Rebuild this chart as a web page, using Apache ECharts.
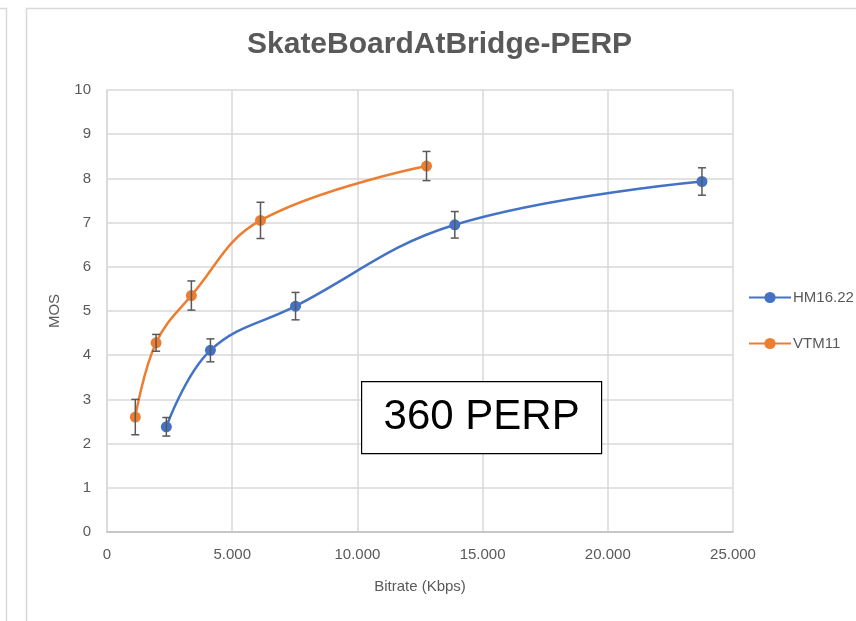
<!DOCTYPE html>
<html>
<head>
<meta charset="utf-8">
<script src="https://cdn.jsdelivr.net/npm/echarts@6/dist/echarts.min.js"></script>
<style>
  html, body { margin: 0; padding: 0; background: #fff; }
  #main { width: 856px; height: 621px; }
</style>
</head>
<body>
<div id="main"></div>
<script>
// HM16.22
var hmX = [2370, 4130, 7530, 13890, 23760];
var hmY = [2.38, 4.11, 5.11, 6.95, 7.93];
var hmErr = [0.21, 0.26, 0.31, 0.30, 0.31];
// VTM11
var vtmX = [1130, 1960, 3370, 6130, 12760];
var vtmY = [2.60, 4.28, 5.35, 7.05, 8.28];
var vtmErr = [0.40, 0.19, 0.33, 0.41, 0.33];

var xTicks = [0, 5000, 10000, 15000, 20000, 25000];

function pairs(xs, ys) {
    var out = [];
    for (var i = 0; i < xs.length; i++) out.push([xs[i], ys[i]]);
    return out;
}
function errRows(xs, ys, es) {
    var out = [];
    for (var i = 0; i < xs.length; i++) out.push([xs[i], ys[i] - es[i], ys[i] + es[i]]);
    return out;
}
function fmtThousands(v) {
    return String(v).replace(/\B(?=(\d{3})+(?!\d))/g, '.');
}
function errorBar(params, api) {
    var lo = api.coord([api.value(0), api.value(1)]);
    var hi = api.coord([api.value(0), api.value(2)]);
    var w = 4;
    var st = { stroke: '#595959', lineWidth: 1.5 };
    return {
        type: 'group',
        children: [
            { type: 'line', shape: { x1: lo[0], y1: lo[1], x2: hi[0], y2: hi[1] }, style: st },
            { type: 'line', shape: { x1: lo[0] - w, y1: lo[1], x2: lo[0] + w, y2: lo[1] }, style: st },
            { type: 'line', shape: { x1: hi[0] - w, y1: hi[1], x2: hi[0] + w, y2: hi[1] }, style: st }
        ]
    };
}

var myChart = echarts.init(document.getElementById('main'));
var font = 'Liberation Sans, Arial, sans-serif';

var option = {
    backgroundColor: '#fff',
    animation: false,
    title: {
        text: 'SkateBoardAtBridge-PERP',
        left: 242,
        top: 25,
        textStyle: { fontFamily: font, fontSize: 30, fontWeight: 'bold', color: '#595959' }
    },
    graphic: [
        { type: 'polyline', shape: { points: [[0, 8.5], [6.5, 8.5], [6.5, 621]] }, style: { stroke: '#d9d9d9', lineWidth: 1.5, fill: null } },
        { type: 'polyline', shape: { points: [[26.5, 621], [26.5, 8.5], [856, 8.5]] }, style: { stroke: '#d9d9d9', lineWidth: 1.5, fill: null } },
        {
            type: 'group', left: 361, top: 381, z: 100,
            children: [
                { type: 'rect', z: 100, shape: { x: 0, y: 0, width: 240, height: 72 }, style: { fill: '#fff', stroke: '#000', lineWidth: 1.2 } },
                { type: 'text', z: 101, x: 120, y: 36, style: { text: '360 PERP', fill: '#000', font: '42px Liberation Sans, Arial, sans-serif', textAlign: 'center', textVerticalAlign: 'middle' } }
            ]
        }
    ],
    legend: {
        orient: 'vertical',
        left: 743,
        top: 285,
        itemWidth: 42,
        itemHeight: 14,
        itemGap: 31,
        data: ['HM16.22', 'VTM11'],
        textStyle: { fontFamily: font, fontSize: 15, color: '#595959', padding: [0, 0, 0, -3] }
    },
    grid: { left: 107, right: 123, top: 90, bottom: 89 },
    xAxis: {
        type: 'value',
        min: 0,
        max: 25000,
        interval: 5000,
        name: 'Bitrate (Kbps)',
        nameLocation: 'middle',
        nameGap: 47,
        nameTextStyle: { fontFamily: font, fontSize: 15, color: '#595959' },
        axisLine: { lineStyle: { color: '#bfbfbf', width: 1.5 } },
        axisTick: { show: false },
        axisLabel: { fontFamily: font, fontSize: 15, color: '#595959', margin: 15, formatter: fmtThousands },
        splitLine: { show: true, lineStyle: { color: '#d9d9d9', width: 1.5 } }
    },
    yAxis: {
        type: 'value',
        min: 0,
        max: 10,
        interval: 1,
        name: 'MOS',
        nameLocation: 'middle',
        nameGap: 45,
        nameMoveOverlap: false,
        nameTextStyle: { fontFamily: font, fontSize: 15, color: '#595959' },
        axisLine: { show: true, lineStyle: { color: '#d9d9d9', width: 1.5 } },
        axisTick: { show: false },
        axisLabel: { fontFamily: font, fontSize: 15, color: '#595959', margin: 16 },
        splitLine: { show: true, lineStyle: { color: '#d9d9d9', width: 1.5 } }
    },
    series: [
        {
            name: 'HM16.22',
            type: 'line',
            data: pairs(hmX, hmY),
            smooth: 0.4,
            symbol: 'circle',
            symbolSize: 11,
            z: 3,
            color: '#4472C4',
            lineStyle: { width: 2.5 }
        },
        {
            name: 'VTM11',
            type: 'line',
            data: pairs(vtmX, vtmY),
            smooth: 0.4,
            symbol: 'circle',
            symbolSize: 11,
            z: 3,
            color: '#ED7D31',
            lineStyle: { width: 2.5 }
        },
        { type: 'custom', renderItem: errorBar, data: errRows(hmX, hmY, hmErr), z: 4, silent: true },
        { type: 'custom', renderItem: errorBar, data: errRows(vtmX, vtmY, vtmErr), z: 4, silent: true }
    ]
};

myChart.setOption(option);
</script>
</body>
</html>
